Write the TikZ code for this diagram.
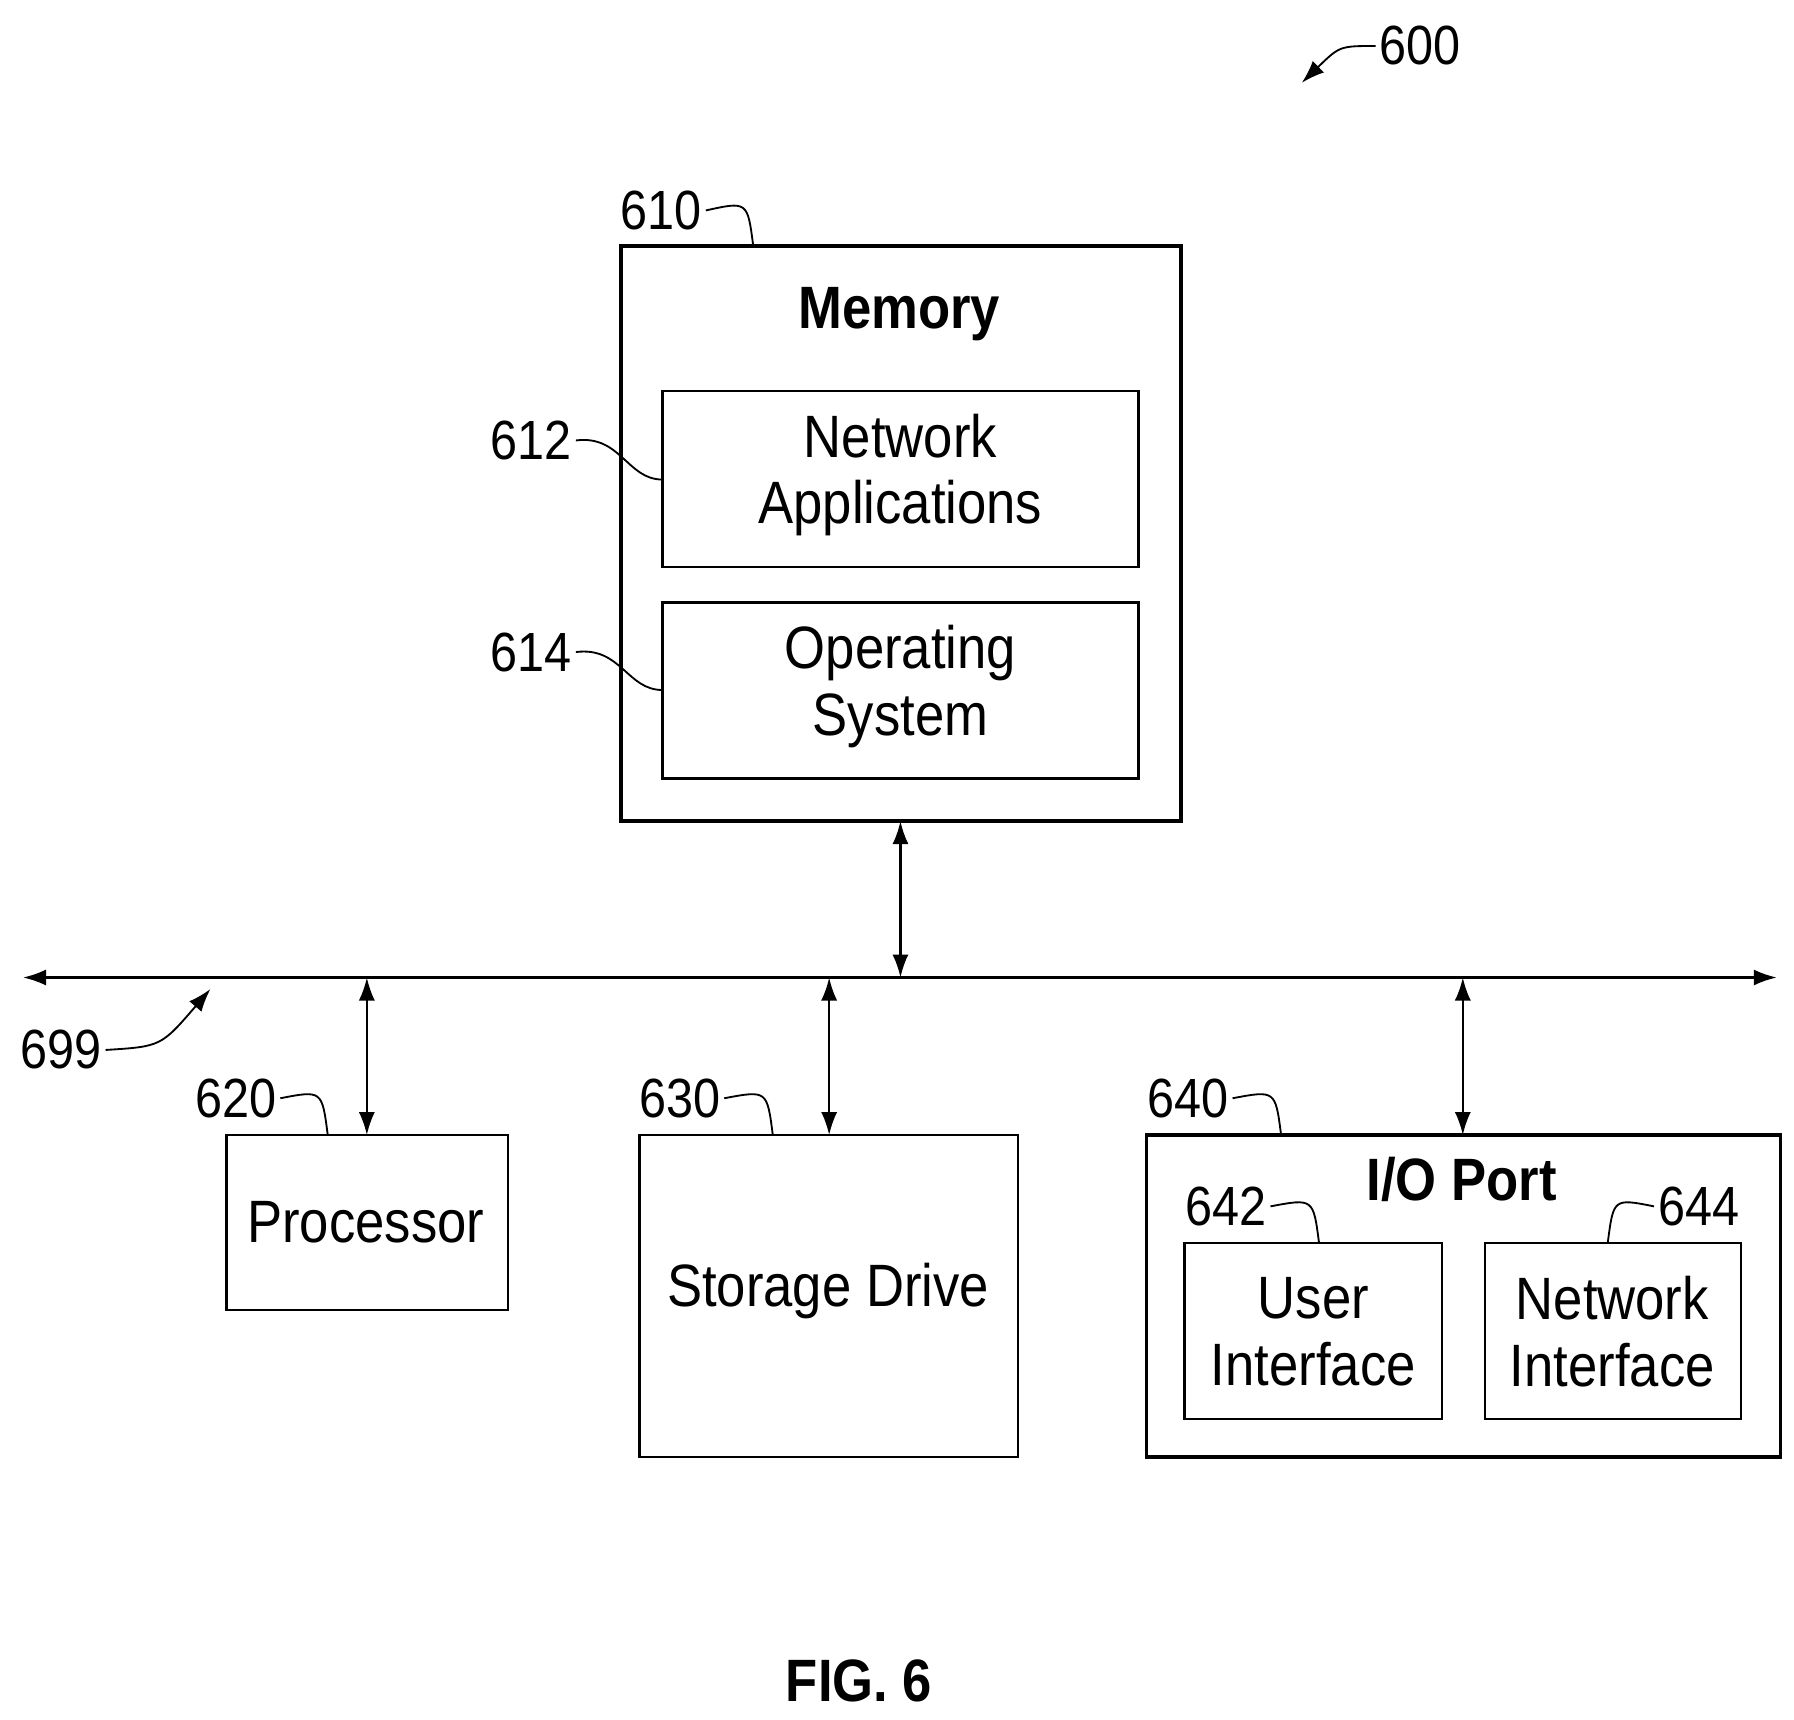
\documentclass[tikz,border=0pt]{standalone}
\usepackage{fontspec}
\setmainfont{Liberation Sans}[FakeStretch=0.88]
\usetikzlibrary{arrows.meta}
\begin{document}
\begin{tikzpicture}[x=1pt,y=-1pt,
  thick box/.style={draw,line width=3pt},
  thin box/.style={draw,line width=2pt},
  txt/.style={font=\fontsize{52}{58}\selectfont,align=center},
  btxt/.style={font=\fontsize{52}{58}\selectfont\bfseries,align=center},
  lbl/.style={font=\fontsize{48}{54}\selectfont},
  lead/.style={line width=1.6pt},
  arr/.style={line width=2pt,{Latex[length=20pt,width=14pt]}-{Latex[length=20pt,width=14pt]}},
  sarr/.style={line width=1.6pt,-{Latex[length=20pt,width=14pt]}}]
\useasboundingbox (0,0) rectangle (1560,1495);
% memory
\draw[thick box] (540,214) rectangle (1027,714);
\node[btxt] (mem) at (782,273) {Memory};
\draw[thin box] (576,340) rectangle (990,493);
\node[txt] (na) at (783,413) {Network\\Applications};
\draw[thin box] (576,524) rectangle (990,677);
\node[txt] (os) at (783,597) {Operating\\System};
\coordinate (membot) at (783,714);
% bus
\coordinate (busL) at (20,850);
\coordinate (busR) at (1545,850);
\draw[arr] (busL) -- (busR);
\coordinate (b1) at (783,850);
\draw[arr] (membot) -- (b1);
% processor
\draw[thin box] (197,987) rectangle (442,1139);
\node[txt] (proc) at (318,1063) {Processor};
\coordinate (pt) at (319,987); \coordinate (b2) at (319,850);
\draw[arr] (b2) -- (pt);
% storage
\draw[thin box] (556,987) rectangle (885,1267);
\node[txt] (sd) at (720,1123) {Storage Drive};
\coordinate (st) at (721,987); \coordinate (b3) at (721,850);
\draw[arr] (b3) -- (st);
% io
\draw[thick box] (997,987) rectangle (1548,1267);
\node[btxt] (io) at (1271,1026) {I/O Port};
\coordinate (it) at (1272,987); \coordinate (b4) at (1272,850);
\draw[arr] (b4) -- (it);
\draw[thin box] (1030,1081) rectangle (1254,1234);
\node[txt] (ui) at (1142,1158) {User\\Interface};
\draw[thin box] (1291,1081) rectangle (1514,1234);
\node[txt] (ni) at (1402,1158) {Network\\Interface};
% labels
\node[lbl] (l600) at (1235,40) {600};
\coordinate (c600) at (1132,72);
\draw[sarr] (l600.west) .. controls (1165,40) .. (c600);
\node[lbl] (l610) at (575,183) {610};
\coordinate (c610) at (655,214);
\draw[lead] (l610.east) .. controls (650,175) .. (c610);
\node[lbl] (l612) at (462,383) {612};
\coordinate (c612) at (576,417);
\draw[lead] (l612.east) .. controls (540,378) and (545,417) .. (c612);
\node[lbl] (l614) at (462,567) {614};
\coordinate (c614) at (576,600);
\draw[lead] (l614.east) .. controls (540,562) and (545,600) .. (c614);
\node[lbl] (l699) at (53,913) {699};
\coordinate (c699) at (183,860);
\draw[sarr] (l699.east) .. controls (140,910) .. (c699);
\node[lbl] (l620) at (205,955) {620};
\coordinate (c620) at (285,987);
\draw[lead] (l620.east) .. controls (280,948) .. (c620);
\node[lbl] (l630) at (591,955) {630};
\coordinate (c630) at (672,987);
\draw[lead] (l630.east) .. controls (667,948) .. (c630);
\node[lbl] (l640) at (1033,955) {640};
\coordinate (c640) at (1114,987);
\draw[lead] (l640.east) .. controls (1109,948) .. (c640);
\node[lbl] (l642) at (1066,1049) {642};
\coordinate (c642) at (1147,1081);
\draw[lead] (l642.east) .. controls (1142,1042) .. (c642);
\node[lbl] (l644) at (1477,1049) {644};
\coordinate (c644) at (1398,1081);
\draw[lead] (l644.west) .. controls (1403,1042) .. (c644);
\node[btxt] (fig) at (747,1462) {FIG. 6};
\end{tikzpicture}
\end{document}
